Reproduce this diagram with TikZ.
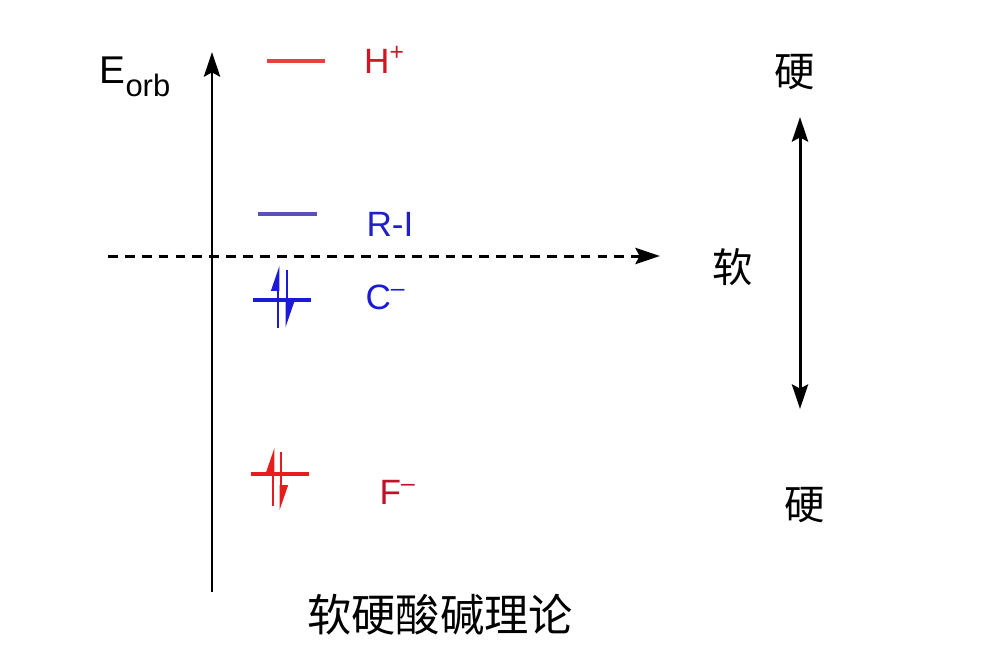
\documentclass[tikz,border=0pt]{standalone}
\usepackage{fontspec}
\setmainfont{Liberation Sans}
\newfontfamily\cjk{Noto Sans CJK SC}
\usetikzlibrary{arrows.meta}

\definecolor{hred}{HTML}{E84040}
\definecolor{hlab}{HTML}{D01525}
\definecolor{rline}{HTML}{5A50B8}
\definecolor{rlab}{HTML}{2020C8}
\definecolor{cblue}{HTML}{1A1AD8}
\definecolor{fred}{HTML}{E81C1C}
\definecolor{flab}{HTML}{C0102A}

\begin{document}
\begin{tikzpicture}[x=0.01cm, y=-0.01cm, line join=round,
		>={Stealth[length=7pt,width=4.6pt,inset=1.2pt]},
		axis/.style={line width=0.85pt, ->},
		level/.style={line width=0.95pt},
		spin/.style={line width=0.85pt, -{Stealth[harpoon,length=6pt,width=3.8pt,inset=0pt]}},
		lab/.style={font=\fontsize{10}{12}\selectfont},
		hz/.style={font=\cjk\fontsize{11.5}{13}\selectfont}]
	\useasboundingbox (0,0) rectangle (1000,645);
	
	% --- Trục năng lượng ---
	\coordinate (eBot) at (212,592);
	\coordinate (eTop) at (212,52);
	\draw[axis] (eBot) -- (eTop);
	\node[lab, font=\fontsize{11}{12}\selectfont] (eorb) at (135,77) {E\raisebox{-0.33em}{\fontsize{8.8}{10}\selectfont orb}};
	
	% --- Đường nét đứt ---
	\coordinate (dL) at (108,256);
	\coordinate (dR) at (660,256);
	\draw[axis, dash pattern=on 2.8pt off 2pt] (dL) -- (dR);
	
	% --- Các mức năng lượng ---
	\draw[level, hred] (267,61) -- (325,61);
	\node[lab, text=hlab] (hplus) at (385,60) {H\textsuperscript{+}};
	
	\draw[level, rline] (258,214) -- (317,214);
	\node[lab, text=rlab] (ri) at (390,224) {R-I};
	
	\draw[level, cblue] (253,300) -- (311,300);
	\draw[spin, cblue] (278,328) -- (278,265);
	\draw[spin, cblue] (287,270) -- (287,328);
	\node[lab, text=cblue] (cminus) at (386,297) {C\textsuperscript{–}};
	
	\draw[level, fred] (251,474) -- (309,474);
	\draw[spin, fred] (273,506) -- (273,447);
	\draw[spin, fred] (281,452) -- (281,511);
	\node[lab, text=flab] (fminus) at (398,492) {F\textsuperscript{–}};
	
	% --- Thang cứng / mềm ---
	\node[hz] (hardTop) at (795,72) {硬};
	\node[hz] (soft) at (733,267) {软};
	\node[hz] (hardBot) at (805,505) {硬};
	\coordinate (sTop) at (800,117);
	\coordinate (sBot) at (800,409);
	\draw[axis, <->] (sTop) -- (sBot);
	
	\node[hz, font=\cjk\fontsize{12.6}{14}\selectfont] (title) at (440,615) {软硬酸碱理论};
\end{tikzpicture}
\end{document}
